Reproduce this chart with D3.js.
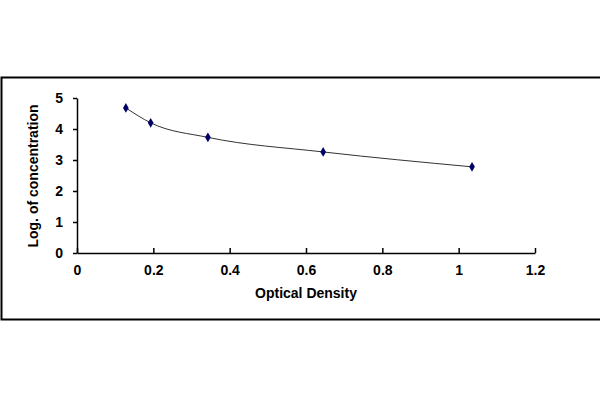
<!DOCTYPE html>
<html>
<head>
<meta charset="utf-8">
<script src="https://cdn.jsdelivr.net/npm/d3@7"></script>
<style>
body { margin: 0; background: #fff; }
text { font-family: "Liberation Sans", Arial, sans-serif; font-weight: bold; }
</style>
</head>
<body>
<svg id="chart" width="600" height="400"></svg>
<script>
var od = [0.128, 0.193, 0.343, 0.645, 1.035];
var logConc = [4.68, 4.2, 3.73, 3.26, 2.78];
var xTicks = [0, 0.2, 0.4, 0.6, 0.8, 1, 1.2];
var yTicks = [0, 1, 2, 3, 4, 5];

var svg = d3.select("#chart");

// outer frame
svg.append("rect")
	.attr("x", 1.5).attr("y", 77.5)
	.attr("width", 600).attr("height", 242)
	.attr("fill", "none").attr("stroke", "#000").attr("stroke-width", 2);

var x = d3.scaleLinear().domain([0, 1.2]).range([77, 535]);
var y = d3.scaleLinear().domain([0, 5]).range([253, 98]);

var xAxis = svg.append("g")
	.attr("transform", "translate(0,253)")
	.call(d3.axisBottom(x).tickValues(xTicks).tickFormat(d3.format("")).tickSizeInner(-5).tickSizeOuter(0).tickPadding(12));
var yAxis = svg.append("g")
	.attr("transform", "translate(77,0)")
	.call(d3.axisLeft(y).tickValues(yTicks).tickFormat(d3.format("d")).tickSizeInner(4).tickSizeOuter(0).tickPadding(10));

[xAxis, yAxis].forEach(function(a) {
	a.selectAll("path, line").attr("stroke", "#000").attr("stroke-width", 1.5);
	a.selectAll("text").attr("font-size", 14).attr("fill", "#000")
		.style("font-family", "Liberation Sans, Arial, sans-serif").style("font-weight", "bold");
});

svg.append("text")
	.attr("x", 306).attr("y", 298)
	.attr("text-anchor", "middle").attr("font-size", 14)
	.text("Optical Density");

svg.append("text")
	.attr("transform", "translate(38,176) rotate(-90)")
	.attr("text-anchor", "middle").attr("font-size", 14)
	.text("Log. of concentration");

var pts = od.map(function(d, i) { return [d, logConc[i]]; });

svg.append("path")
	.datum(pts)
	.attr("fill", "none").attr("stroke", "#333").attr("stroke-width", 1)
	.attr("d", d3.line()
		.x(function(d) { return x(d[0]); })
		.y(function(d) { return y(d[1]); })
		.curve(d3.curveMonotoneX));

svg.selectAll(".pt")
	.data(pts)
	.enter().append("path")
	.attr("class", "pt")
	.attr("transform", function(d) { return "translate(" + x(d[0]) + "," + y(d[1]) + ")"; })
	.attr("d", d3.symbol().type(d3.symbolDiamond).size(28))
	.attr("fill", "#000066");
</script>
</body>
</html>
